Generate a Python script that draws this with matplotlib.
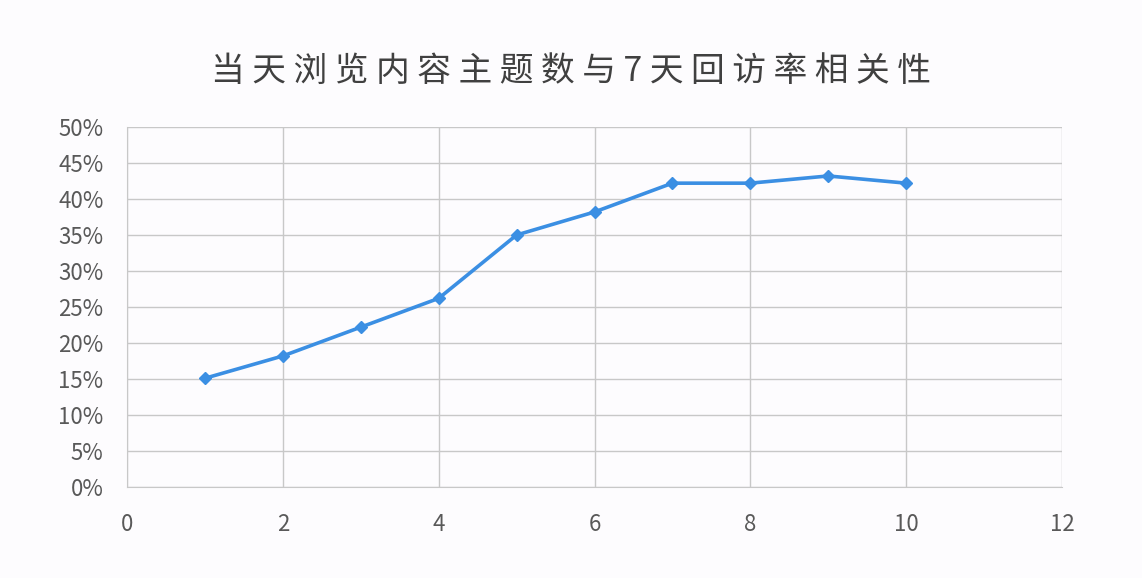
import matplotlib
matplotlib.use('Agg')
import matplotlib.pyplot as plt
from matplotlib.ticker import PercentFormatter, MultipleLocator

plt.rcParams['font.family'] = ['Noto Sans CJK SC', 'DejaVu Sans']

topics = [1, 2, 3, 4, 5, 6, 7, 8, 9, 10]
revisit = [15.1, 18.2, 22.2, 26.2, 35.0, 38.2, 42.2, 42.2, 43.2, 42.2]
title = '当天浏览内容主题数与7天回访率相关性'

fig = plt.figure(figsize=(11.42, 5.78), dpi=100, facecolor='#fdfcfe')
ax = fig.add_axes([127/1142, 91/578, 935/1142, 360/578])
ax.set_facecolor('#fdfcfe')

ax.plot(topics, revisit, color='#3b8fe3', lw=2.6, marker='D', ms=6.5, zorder=3)

ax.set_xlim(0, 12)
ax.set_ylim(0, 50)
ax.xaxis.set_major_locator(MultipleLocator(2))
ax.yaxis.set_major_locator(MultipleLocator(5))
ax.yaxis.set_major_formatter(PercentFormatter(decimals=0))
ax.grid(True, color='#c8c8c8', lw=1)
ax.set_axisbelow(True)
for s in ['top', 'right']:
    ax.spines[s].set_visible(False)
for s in ['left', 'bottom']:
    ax.spines[s].set_color('#c8c8c8')
ax.tick_params(length=0, labelsize=16, labelcolor='#595959')
ax.tick_params(axis='y', pad=17)
ax.tick_params(axis='x', pad=19)

# spaced out like the original title
fig.text(0.5, 1 - 71/578, ' '.join(title), ha='center', va='center',
         fontsize=24.3, color='#404040', fontweight='light')

fig.savefig('out.png', dpi=100, facecolor=fig.get_facecolor())
